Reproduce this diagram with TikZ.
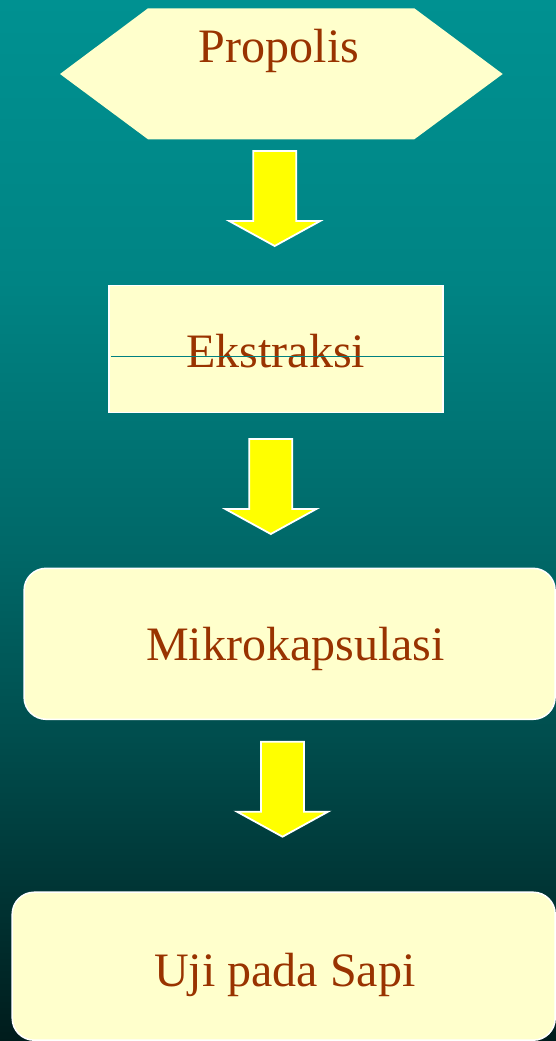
\documentclass[tikz,border=0pt]{standalone}
\usepackage{fontspec}
\setmainfont{Liberation Serif}
\definecolor{boxfill}{RGB}{255,255,204}
\definecolor{txtcol}{RGB}{153,51,0}
\definecolor{linecol}{RGB}{0,128,128}
\definecolor{arrowyellow}{RGB}{255,255,0}
\definecolor{bgA}{RGB}{0,145,145}
\definecolor{bgB}{RGB}{0,132,132}
\definecolor{bgC}{RGB}{0,104,104}
\definecolor{bgD}{RGB}{0,80,80}
\definecolor{bgE}{RGB}{0,56,56}
\definecolor{bgF}{RGB}{0,28,28}
\pgfdeclareverticalshading{bgshade}{100bp}{color(0bp)=(bgF); color(25bp)=(bgF); color(33.2bp)=(bgE); color(40.4bp)=(bgD); color(48.6bp)=(bgC); color(61.5bp)=(bgB); color(75bp)=(bgA); color(100bp)=(bgA)}
\tikzset{
  lbl/.style={inner sep=0pt, anchor=base, text=txtcol, font=\fontsize{48}{56}\selectfont},
  boxrect/.style={draw=white, line width=1.5pt, fill=boxfill, inner sep=0pt},
  boxround/.style={boxrect, rounded corners=22pt},
  arrowstyle/.style={fill=arrowyellow, draw=white, line width=1.8pt, line join=miter},
  blockarr/.pic={\filldraw[arrowstyle] (-21.5,0) -- (21.5,0) -- (21.5,70) -- (45.5,70) -- (0,95) -- (-45.5,70) -- (-21.5,70) -- cycle;}
}
\begin{document}
\begin{tikzpicture}[x=1pt,y=-1pt]
\shade[shading=bgshade] (0,0) rectangle (556,1041);
\useasboundingbox (0,0) rectangle (556,1041);
% hexagon
\fill[boxfill] (60,74) -- (148,8.3) -- (414.3,8.3) -- (502.7,74) -- (414.3,139.3) -- (148,139.3) -- cycle;
\node[lbl] (propolis) at (279,63) {Propolis};
% arrow 1
\coordinate (a1) at (274.7,151);
\pic at (a1) {blockarr};
% Ekstraksi box
\node[boxrect, minimum width=334pt, minimum height=127pt] (ekbox) at (276,349.2) {};
\node[lbl] (ekstraksi) at (275.7,367.7) {Ekstraksi};
\draw[linecol, line width=1pt] (ekbox.west |- 0,356.7) ++(2.5,0) coordinate (ekl) -- (ekbox.east |- 0,356.7) ++(-2.5,0) coordinate (ekr);
% arrow 2
\coordinate (a2) at (270.8,439);
\pic at (a2) {blockarr};
% Mikrokapsulasi box
\node[boxround, minimum width=531pt, minimum height=151pt] (mkbox) at (289.6,643.8) {};
\node[lbl] (mikro) at (295.5,660) {Mikrokapsulasi};
% arrow 3
\coordinate (a3) at (282.5,741.7);
\pic at (a3) {blockarr};
% Uji box
\node[boxround, minimum width=543pt, minimum height=148pt] (ujibox) at (283.7,966.2) {};
\node[lbl] (uji) at (284.7,986) {Uji pada Sapi};
\end{tikzpicture}
\end{document}
